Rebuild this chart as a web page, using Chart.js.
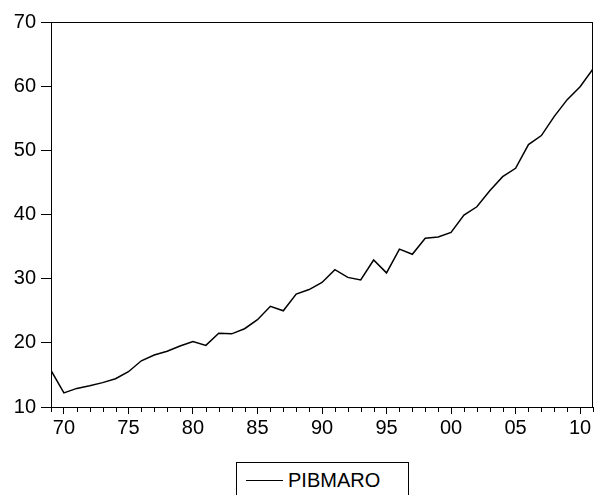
<!DOCTYPE html>
<html>
<head>
<meta charset="utf-8">
<script src="https://cdn.jsdelivr.net/npm/chart.js@4"></script>
<style>
  body { margin: 0; background: #fff; }
  #wrap { position: relative; width: 594px; height: 495px; overflow: hidden; }
  #legend {
    position: absolute; left: 236px; top: 462px; width: 171px; height: 40px;
    border: 1px solid #000; background: #fff;
    font-family: 'Liberation Sans', Arial, sans-serif; font-size: 20px; color: #000;
  }
  #legend .swatch { position: absolute; left: 9px; top: 17px; width: 37px; border-top: 1.5px solid #000; }
  #legend .label { position: absolute; left: 51px; top: 6px; }
</style>
</head>
<body>
<div id="wrap">
  <canvas id="chart" width="594" height="495"></canvas>
  <div id="legend"><span class="swatch"></span><span class="label">PIBMARO</span></div>
</div>
<script>
// années et valeurs
const years = [
  1969, 1970, 1971, 1972, 1973, 1974, 1975, 1976, 1977, 1978,
  1979, 1980, 1981, 1982, 1983, 1984, 1985, 1986, 1987, 1988,
  1989, 1990, 1991, 1992, 1993, 1994, 1995, 1996, 1997, 1998,
  1999, 2000, 2001, 2002, 2003, 2004, 2005, 2006, 2007, 2008,
  2009, 2010, 2011
];
const pibmaro = [
  15.7, 12.2, 12.9, 13.3, 13.8, 14.4, 15.5, 17.2, 18.1, 18.7,
  19.5, 20.2, 19.6, 21.5, 21.4, 22.2, 23.6, 25.7, 25.0, 27.6,
  28.3, 29.4, 31.4, 30.2, 29.8, 32.9, 30.9, 34.6, 33.8, 36.3,
  36.5, 37.2, 39.9, 41.2, 43.7, 45.9, 47.2, 50.9, 52.3, 55.3,
  57.9, 59.9, 62.7
];
const yTicks = [10, 20, 30, 40, 50, 60, 70];
const xLabelYears = [1970, 1975, 1980, 1985, 1990, 1995, 2000, 2005, 2010];

const FONT = { family: "'Liberation Sans', Arial, sans-serif", size: 20 };

// cadre + petites graduations annuelles
const framePlugin = {
  id: 'frame',
  afterDraw(chart) {
    const { ctx, chartArea: a, scales } = chart;
    ctx.save();
    ctx.strokeStyle = '#000';
    ctx.lineWidth = 1;
    ctx.strokeRect(a.left + 0.5, a.top + 0.5, a.right - a.left - 1, a.bottom - a.top);
    ctx.beginPath();
    years.forEach(y => {
      if (y % 5 === 0) return;
      const x = Math.round(scales.x.getPixelForValue(y)) + 0.5;
      ctx.moveTo(x, a.bottom);
      ctx.lineTo(x, a.bottom + 5);
    });
    ctx.stroke();
    ctx.restore();
  }
};

new Chart(document.getElementById('chart'), {
  type: 'line',
  data: {
    datasets: [{
      label: 'PIBMARO',
      data: years.map((y, i) => ({ x: y, y: pibmaro[i] })),
      borderColor: '#000',
      borderWidth: 1.5,
      pointRadius: 0,
      tension: 0,
      fill: false
    }]
  },
  options: {
    responsive: false,
    animation: false,
    layout: { padding: { top: 22, right: 1 } },
    plugins: { legend: { display: false }, tooltip: { enabled: false } },
    scales: {
      x: {
        type: 'linear',
        min: 1969,
        max: 2011,
        afterBuildTicks: s => { s.ticks = xLabelYears.map(v => ({ value: v })); },
        afterFit: s => { s.height = 88; },
        border: { color: '#000', width: 1 },
        grid: { drawOnChartArea: false, tickLength: 7, tickColor: '#000' },
        ticks: {
          color: '#000', font: FONT, maxRotation: 0, autoSkip: false, padding: 2,
          callback: v => String(v % 100).padStart(2, '0')
        }
      },
      y: {
        min: 10,
        max: 70,
        afterBuildTicks: s => { s.ticks = yTicks.map(v => ({ value: v })); },
        afterFit: s => { s.width = 51; },
        border: { color: '#000', width: 1 },
        grid: { drawOnChartArea: false, tickLength: 10, tickColor: '#000' },
        ticks: { color: '#000', font: FONT, padding: 5 }
      }
    }
  },
  plugins: [framePlugin]
});
</script>
</body>
</html>
